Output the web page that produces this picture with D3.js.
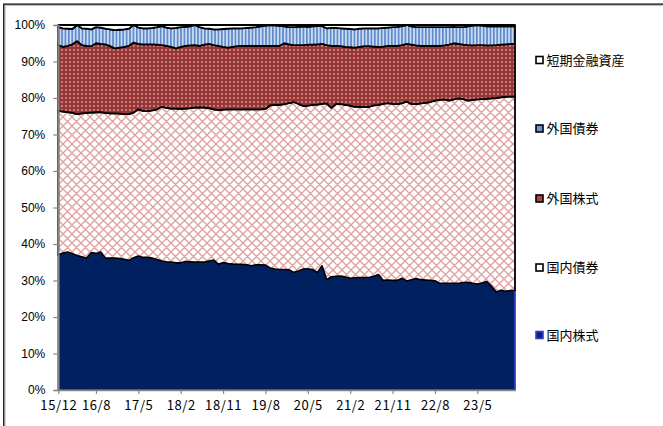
<!DOCTYPE html>
<html><head><meta charset="utf-8">
<script src="https://cdn.jsdelivr.net/npm/d3@7/dist/d3.min.js"></script>
<style>html,body{margin:0;padding:0;background:#fff;}svg{display:block;}</style>
</head><body>
<svg id="c" width="663" height="426"></svg>
<script>
// ---- data (percent shares, monthly 2015/12 - 2024/1) ----
const startYear = 2015, startMonth = 12, nMonths = 98;
const categories = [];
for (let i = 0; i < nMonths; i++) {
  const m = (startMonth - 1 + i) % 12 + 1;
  const y = startYear + Math.floor((startMonth - 1 + i) / 12);
  categories.push(String(y % 100) + "/" + m);
}
const xTickLabels = ["15/12","16/8","17/5","18/2","18/11","19/8","20/5","21/2","21/11","22/8","23/5"];
const yTicks = [0,10,20,30,40,50,60,70,80,90,100];
const seriesNames = ["国内株式","国内債券","外国株式","外国債券","短期金融資産"];

const domesticStocks = [37.0,37.5,37.8,37.3,36.8,36.5,36.1,37.6,37.4,37.8,36.1,36.1,36.1,36.0,35.8,35.5,36.2,36.7,36.3,36.3,
36.1,35.7,35.3,35.1,35.0,34.8,34.8,35.2,35.1,35.0,35.0,35.0,35.3,35.6,34.4,34.9,34.6,34.5,34.4,34.4,
34.3,34.0,34.3,34.3,34.2,33.4,33.1,33.0,33.0,32.9,32.2,32.6,33.1,33.2,33.0,32.1,34.0,30.2,31.0,31.1,
31.2,30.9,30.6,30.7,30.8,30.8,30.8,31.1,31.6,30.0,30.1,30.0,30.0,30.6,29.8,30.2,30.5,30.2,30.1,30.0,
29.9,29.2,29.2,29.2,29.2,29.2,29.4,29.5,29.2,29.0,29.3,29.7,28.4,26.8,27.3,27.0,27.2,27.3];
const domesticBonds = [39.5,38.8,38.3,38.6,38.8,39.3,39.8,38.4,38.7,38.3,39.8,39.7,39.7,39.7,39.8,40.1,39.8,40.2,40.2,40.1,
40.5,41.2,42.3,42.2,42.1,42.3,42.2,41.9,42.1,42.4,42.4,42.4,41.9,41.3,42.3,41.9,42.3,42.4,42.5,42.5,
42.6,42.9,42.6,42.6,42.8,44.6,45.0,45.1,45.3,45.7,46.7,45.8,44.7,44.7,45.1,46.1,44.4,48.3,46.3,47.3,
47.1,47.2,47.3,46.9,46.8,46.7,46.8,46.9,46.5,48.4,48.5,48.4,48.3,48.0,49.2,48.2,47.8,48.3,48.6,48.9,
49.4,50.3,50.4,50.1,50.4,50.7,50.3,49.8,50.3,50.6,50.4,50.1,51.5,53.2,52.9,53.3,53.2,53.1];
const foreignStocks = [18.0,17.7,18.2,18.8,20.0,18.7,18.4,18.2,18.9,18.7,18.8,18.4,17.8,18.1,18.4,18.7,19.2,17.9,18.2,18.3,
18.1,17.7,16.9,17.0,16.9,16.5,17.0,17.2,17.2,17.1,16.9,17.2,17.6,17.6,17.6,17.2,16.9,17.1,17.3,17.4,
17.4,17.4,17.4,17.4,17.3,16.3,16.2,16.2,16.7,16.1,15.6,16.1,16.7,16.7,16.5,16.5,16.4,16.0,17.0,15.9,
15.9,15.9,16.0,16.2,16.4,16.7,16.6,16.1,15.9,15.7,15.7,15.9,16.0,15.9,15.8,16.2,16.1,15.8,15.6,15.4,
15.0,14.8,14.8,15.3,15.4,14.9,14.9,15.2,14.9,14.9,14.8,14.6,14.5,14.5,14.4,14.4,14.4,14.4];
const foreignBonds = [4.9,5.1,4.7,4.2,4.4,4.6,4.7,4.6,4.4,4.5,4.3,4.6,5.0,4.9,4.8,4.7,4.8,4.5,4.4,4.4,
4.5,4.8,5.2,5.0,5.1,5.6,5.4,5.2,5.2,5.5,5.1,4.5,4.2,4.3,4.5,4.9,5.2,5.1,4.9,4.8,
4.9,5.0,5.1,5.3,5.5,5.7,5.6,5.5,4.6,4.7,4.9,5.0,5.1,4.9,5.0,5.0,4.9,4.6,4.9,4.9,
4.9,5.0,5.0,5.0,5.0,4.9,4.9,5.0,5.1,5.1,5.0,5.1,5.2,5.2,5.2,5.0,5.0,5.1,5.1,5.1,
5.1,5.1,5.0,4.8,4.5,4.6,4.8,5.1,5.4,5.5,5.3,5.2,5.2,5.1,5.0,4.9,4.8,4.8];
const shortTerm = [0.6,0.9,1.0,1.1,0.0,0.9,1.0,1.2,0.6,0.7,1.0,1.2,1.4,1.3,1.2,1.0,0.0,0.7,0.9,0.9,
0.8,0.6,0.3,0.7,0.9,0.8,0.6,0.5,0.4,0.0,0.6,0.9,1.0,1.2,1.2,1.1,1.0,0.9,0.9,0.9,
0.8,0.7,0.6,0.4,0.2,0.0,0.1,0.2,0.4,0.6,0.6,0.5,0.4,0.5,0.4,0.3,0.3,0.9,0.8,0.8,
0.9,1.0,1.1,1.2,1.0,0.9,0.9,0.9,0.9,0.8,0.7,0.6,0.5,0.3,0.0,0.4,0.6,0.6,0.6,0.6,
0.6,0.6,0.6,0.6,0.5,0.6,0.6,0.4,0.2,0.0,0.2,0.4,0.4,0.4,0.4,0.4,0.4,0.4];

// ---- layout ----
const svg = d3.select("#c");
const L = 58.3, R = 515, T = 25, B = 390;
const keys = ["ds","db","fs","fb","st"];
const table = categories.map((c, i) => ({cat: c, ds: domesticStocks[i], db: domesticBonds[i], fs: foreignStocks[i], fb: foreignBonds[i], st: shortTerm[i]}));

const x = d3.scalePoint().domain(categories).range([L, R]);
const y = d3.scaleLinear().domain([0, 100]).range([B, T]);

// outer frame (cropped chart area border)
svg.append("path").attr("d", "M3.8,426 V4.2 H663").attr("fill", "none").attr("stroke", "#000").attr("stroke-width", 1.3);
svg.append("path").attr("d", "M5.2,426 V5.6 H663").attr("fill", "none").attr("stroke", "#aaa").attr("stroke-width", 0.8);

// patterns
const defs = svg.append("defs");
const ph = defs.append("pattern").attr("id", "hatch").attr("patternUnits", "userSpaceOnUse").attr("width", 9).attr("height", 9);
ph.append("rect").attr("width", 9).attr("height", 9).attr("fill", "#fff");
ph.append("path").attr("d", "M0,0 L9,9 M9,0 L0,9 M-1,8 L1,10 M8,-1 L10,1 M-1,1 L1,-1 M8,10 L10,8").attr("stroke", "#e0a3a3").attr("stroke-width", 1.4);
const pd = defs.append("pattern").attr("id", "dots").attr("patternUnits", "userSpaceOnUse").attr("width", 4).attr("height", 4);
pd.append("rect").attr("width", 4).attr("height", 4).attr("fill", "#983636");
pd.append("rect").attr("x", 1.3).attr("y", 1.3).attr("width", 1.4).attr("height", 1.4).attr("fill", "#f0c4c4");
const ps = defs.append("pattern").attr("id", "stripes").attr("patternUnits", "userSpaceOnUse").attr("width", 3.4).attr("height", 4);
ps.append("rect").attr("width", 3.4).attr("height", 4).attr("fill", "#c9dbf3");
ps.append("rect").attr("width", 1.6).attr("height", 4).attr("fill", "#5b87c9");

const fills = {ds: "#002060", db: "url(#hatch)", fs: "url(#dots)", fb: "url(#stripes)", st: "#ffffff"};
const strokes = {ds: "#3a3acc", db: "#000", fs: "#000", fb: "#000", st: "#000"};

const stack = d3.stack().keys(keys)(table);
const area = d3.area().x(d => x(d.data.cat)).y0(d => y(d[0])).y1(d => y(d[1]));

svg.append("g").selectAll("path").data(stack).join("path")
  .attr("d", area)
  .attr("fill", d => fills[d.key])
  .attr("stroke", d => strokes[d.key])
  .attr("stroke-width", 1.8)
  .attr("stroke-linejoin", "round");

// axes
const yAxis = d3.axisLeft(y).tickValues(yTicks).tickFormat(d => d + "%").tickSize(5).tickPadding(8);
const gy = svg.append("g").attr("transform", `translate(${L},0)`).call(yAxis);
gy.select(".domain").attr("stroke", "#888").attr("stroke-width", 1.5);
gy.selectAll(".tick line").attr("stroke", "#888").attr("stroke-width", 1.2);
gy.selectAll("text").attr("font-family", "Liberation Sans, Arial, sans-serif").attr("font-size", 12).attr("fill", "#000");

const xAxis = d3.axisBottom(x).tickValues(xTickLabels).tickSize(4).tickPadding(7).tickSizeOuter(0);
const gx = svg.append("g").attr("transform", `translate(0,${B})`).call(xAxis);
gx.select(".domain").attr("stroke", "#888").attr("stroke-width", 1.5);
gx.selectAll(".tick line").attr("stroke", "#888").attr("stroke-width", 1.2);
gx.selectAll("text").attr("font-family", "Noto Sans CJK JP, sans-serif").attr("font-size", 13).attr("letter-spacing", "0.6px").attr("fill", "#000");

// legend
const legendItems = [
  {name: seriesNames[4], fill: "#ffffff", stroke: "#000", y: 60},
  {name: seriesNames[3], fill: "#6a96d6", stroke: "#000", y: 128.5},
  {name: seriesNames[2], fill: "#b04545", stroke: "#000", y: 198.5},
  {name: seriesNames[1], fill: "#ffffff", stroke: "#000", y: 267.5},
  {name: seriesNames[0], fill: "#0a1f80", stroke: "#3a3acc", y: 335}
];
const lg = svg.append("g").selectAll("g").data(legendItems).join("g").attr("transform", d => `translate(0,${d.y})`);
lg.append("rect").attr("x", 536).attr("y", -3.5).attr("width", 7).attr("height", 7)
  .attr("fill", d => d.fill).attr("stroke", d => d.stroke).attr("stroke-width", 1.6);
lg.append("text").attr("x", 546.5).attr("y", 0).attr("dy", "0.36em")
  .attr("font-family", "Noto Sans CJK JP, sans-serif").attr("font-size", 13).attr("fill", "#000")
  .text(d => d.name);
</script>
</body></html>
